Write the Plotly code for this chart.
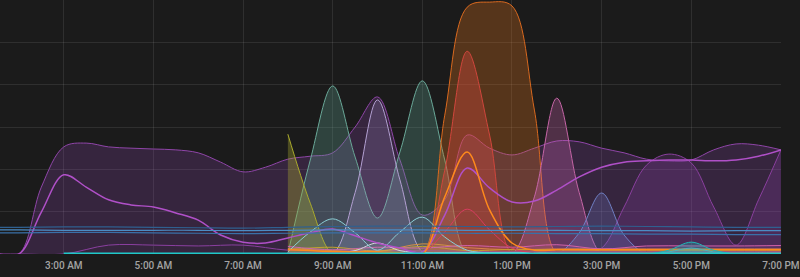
import plotly.graph_objects as go

N = None
# hourly timestamps 01:00 .. 19:00
hours = ["2024-01-01 01:00", "2024-01-01 02:00", "2024-01-01 03:00", "2024-01-01 04:00",
         "2024-01-01 05:00", "2024-01-01 06:00", "2024-01-01 07:00", "2024-01-01 08:00",
         "2024-01-01 09:00", "2024-01-01 10:00", "2024-01-01 11:00", "2024-01-01 12:00",
         "2024-01-01 13:00", "2024-01-01 14:00", "2024-01-01 15:00", "2024-01-01 16:00",
         "2024-01-01 17:00", "2024-01-01 18:00", "2024-01-01 19:00"]
# half-hour timestamps 01:00 .. 19:00
half_hours = ["2024-01-01 01:00", "2024-01-01 01:30", "2024-01-01 02:00", "2024-01-01 02:30",
              "2024-01-01 03:00", "2024-01-01 03:30", "2024-01-01 04:00", "2024-01-01 04:30",
              "2024-01-01 05:00", "2024-01-01 05:30", "2024-01-01 06:00", "2024-01-01 06:30",
              "2024-01-01 07:00", "2024-01-01 07:30", "2024-01-01 08:00", "2024-01-01 08:30",
              "2024-01-01 09:00", "2024-01-01 09:30", "2024-01-01 10:00", "2024-01-01 10:30",
              "2024-01-01 11:00", "2024-01-01 11:30", "2024-01-01 12:00", "2024-01-01 12:30",
              "2024-01-01 13:00", "2024-01-01 13:30", "2024-01-01 14:00", "2024-01-01 14:30",
              "2024-01-01 15:00", "2024-01-01 15:30", "2024-01-01 16:00", "2024-01-01 16:30",
              "2024-01-01 17:00", "2024-01-01 17:30", "2024-01-01 18:00", "2024-01-01 18:30",
              "2024-01-01 19:00"]

# ---- half-hourly series ----
envelope_purple = [0, 0, 0, 15.8, 25.3, 26.2, 25.3, 25.0, 24.8, 24.6, 23.9, 21.7, 19.4, 20.5, 22.4, 23.1,
                   23.9, 30.0, 37.1, 22.2, 9.2, 12.8, 28.1, 25.0, 23.4, 25.0, 26.7, 26.5, 25.0, 23.9,
                   22.4, 22.0, 22.2, 24.6, 26.0, 25.7, 24.6]
purple_line = [0, 0, 0, 9.9, 18.7, 15.8, 12.8, 11.6, 11.1, 9.7, 8.0, 4.5, 2.8, 2.6, 3.8, 5.0,
               5.9, 4.3, 2.6, 1.4, 0.5, 9.2, 20.3, 15.6, 12.3, 12.5, 15.1, 18.2, 20.5, 21.7,
               22.0, 22.2, 22.2, 22.0, 22.2, 23.1, 24.6]
green_peaks = [N] * 14 + [0, 22.2, 39.7, 22.9, 8.5, 24.1, 40.9, 22.2, 0] + [0] * 14
lavender_peak = [N] * 14 + [0, 0, 0, 14.5, 36.4, 17.5, 0.5, 0, 0] + [0] * 14
orange_area = [N] * 14 + [0, 0, 0, 0, 0, 0, 0, 32.8, 58.3, 59.5, 58.6, 34.0, 0] + [0] * 10
red_peak = [N] * 14 + [0, 0, 0, 0, 0, 0, 0, 19.8, 47.9, 28.1, 0] + [0] * 12
orange_line = [N] * 14 + [1.0, 0.8, 0.6, 0.5, 0.5, 0.3, 0, 13.5, 24.1, 10.4, 2.6, 0.9, 1.0] + [1.0] * 10
crimson_line = [N] * 14 + [0.3, 0.3, 0.3, 0.3, 0.3, 0.3, 0.2, 5.2, 10.6, 5.7, 1.4] + [0.3] * 12
pink_peak = [N] * 14 + [0] * 11 + [13.5, 36.8, 14.5, 0] + [0] * 8
periwinkle_peak = [N] * 14 + [0.3] * 12 + [0, 5.0, 14.4, 4.5, 0] + [0.3] * 6
bowl_purple = [N] * 26 + [0, 0.3, 1.4, 11.1, 21.0, 23.6, 21.5, 11.1, 2.1, 12.8, 24.6]
cyan_bump = [N] * 26 + [0, 0, 0, 0, 0, 0.9, 2.8, 0.9, 0, 0, 0]
teal_bump = [N] * 26 + [0, 0, 0, 0, 0, 0.5, 1.4, 0.5, 0, 0, 0]
olive_drop = [N] * 14 + [28.3, 12.0, 0] + [0] * 20
light_cyan = [N] * 14 + [0.5, 5.2, 8.3, 5.0, 0.9, 5.2, 8.7, 4.0, 0.9] + [0.3] * 14
white_bump = [N] * 14 + [0.3, 0.3, 0.3, 0.8, 2.6, 0.8, 0.3] + [0.3] * 16

# ---- hourly series ----
purple_low = [0, 0, 0, 2.1, 2.1, 1.9, 2.1, 0.9, 0.8, 0.8, 0.8, 0.6, 0.6, 0.6, 0.6, 0.6, 0.6, 0.6, 0.6]
cyan_base = [N, N, 0.15, 0.15, 0.15, 0.15, 0.15, 0.15, 0.15, 0.15, 0.15, 0.15, 0.15, 0.15, 0.15, 0.15, 0.15, 0.15, 0.15]
blue_1 = [6.3, 6.3, 6.4, 6.4, 6.3, 6.2, 6.1, 6.3, 6.5, 6.6, 6.6, 6.5, 6.4, 6.5, 6.6, 6.5, 6.4, 6.3, 6.3]
blue_2 = [5.7, 5.7, 5.6, 5.6, 5.6, 5.6, 5.5, 5.6, 5.7, 5.7, 5.7, 5.6, 5.6, 5.6, 5.5, 5.5, 5.4, 5.5, 5.5]
blue_3 = [5.0, 5.0, 5.1, 5.1, 5.0, 4.9, 4.8, 4.9, 5.0, 5.0, 5.0, 4.9, 4.9, 4.8, 4.8, 4.7, 4.7, 4.6, 4.6]
tan_line = [N, N, N, N, N, N, N, 1.3, 0.8, 0.6, 2.4, 1.5, 1.0, 1.2, 1.2, 1.2, 1.2, 1.2, 1.2]
gold_line = [N, N, N, N, N, N, N, 1.0, 1.6, 0.7, 1.8, 0.8, 1.1, 1.0, 0.9, 0.9, 0.9, 0.9, 0.9]
pink_line = [N, N, N, N, N, N, N, 1.8, 1.0, 1.6, 1.4, 2.0, 1.6, 2.2, 1.2, 1.9, 1.9, 1.9, 2.0]

tick_start = "2024-01-01 03:00"
x_range = ["2024-01-01 01:34:40", "2024-01-01 19:00:05"]

# (x, values, line colour, fill colour or None, width)
series = [
    (half_hours, envelope_purple, "#8f45a8", "rgba(163,82,204,0.20)", 1),
    (half_hours, bowl_purple, "#8a3f9e", "rgba(150,70,180,0.22)", 1),
    (half_hours, green_peaks, "#6aa898", "rgba(95,163,147,0.30)", 1),
    (half_hours, lavender_peak, "#b3a0d2", "rgba(165,145,205,0.22)", 1),
    (half_hours, orange_area, "#d9691f", "rgba(224,117,29,0.30)", 1),
    (half_hours, red_peak, "#d0463c", "rgba(220,75,65,0.35)", 1),
    (half_hours, pink_peak, "#c565a6", "rgba(205,100,175,0.30)", 1),
    (half_hours, periwinkle_peak, "#7080c4", "rgba(110,125,200,0.25)", 1),
    (half_hours, olive_drop, "#aaaa2c", "rgba(170,170,50,0.35)", 1),
    (hours, purple_low, "#8a3fa0", None, 1),
    (hours, tan_line, "#d88a3a", "rgba(200,140,60,0.15)", 1),
    (hours, gold_line, "#c8a020", "rgba(200,160,30,0.15)", 1),
    (hours, pink_line, "#d060a8", "rgba(210,100,170,0.12)", 1),
    (half_hours, white_bump, "#d8d8e0", "rgba(220,220,230,0.10)", 1),
    (half_hours, light_cyan, "#8ccfd6", "rgba(140,207,214,0.08)", 1),
    (half_hours, crimson_line, "#d83c60", None, 1),
    (half_hours, purple_line, "#b050c8", None, 1.5),
    (half_hours, orange_line, "#ff8a1c", None, 1.5),
    (hours, blue_1, "#2f6090", None, 1.2),
    (hours, blue_2, "#4c8cc4", None, 1.2),
    (hours, blue_3, "#3a70a8", None, 1.2),
    (half_hours, teal_bump, "#5fb0c0", "rgba(95,176,192,0.25)", 1),
    (half_hours, cyan_bump, "#1fb8b8", "rgba(31,184,184,0.30)", 1),
    (hours, cyan_base, "#1fc8c8", None, 1.5),
]

fig = go.Figure()
for xs, vals, lc, fc, w in series:
    fig.add_trace(go.Scatter(
        x=xs, y=vals, mode="lines",
        line=dict(color=lc, width=w, shape="spline", smoothing=1),
        fill="tozeroy" if fc else None,
        fillcolor=fc,
        connectgaps=False,
        hoverinfo="skip",
    ))

grid = "rgba(255,255,255,0.09)"
fig.update_layout(
    width=800, height=277,
    margin=dict(l=0, r=17, t=0, b=23),
    paper_bgcolor="#1b1b1b", plot_bgcolor="#1b1b1b",
    showlegend=False,
    font=dict(family="Roboto", size=10, color="#a3a3a3"),
    xaxis=dict(type="date", range=x_range, tick0=tick_start, dtick=7200000,
               tickformat="%-I:%M %p", showgrid=True, gridcolor=grid, gridwidth=1,
               zeroline=False, showline=False, ticks="", ticklabelstandoff=4,
               ticklabeloverflow="allow",
               tickfont=dict(family="Roboto", size=10, color="#a3a3a3", weight=500)),
    yaxis=dict(range=[0, 60], dtick=10, showticklabels=False, showgrid=True,
               gridcolor=grid, gridwidth=1, zeroline=False, showline=False, ticks=""),
)
fig.write_html("out.html")
